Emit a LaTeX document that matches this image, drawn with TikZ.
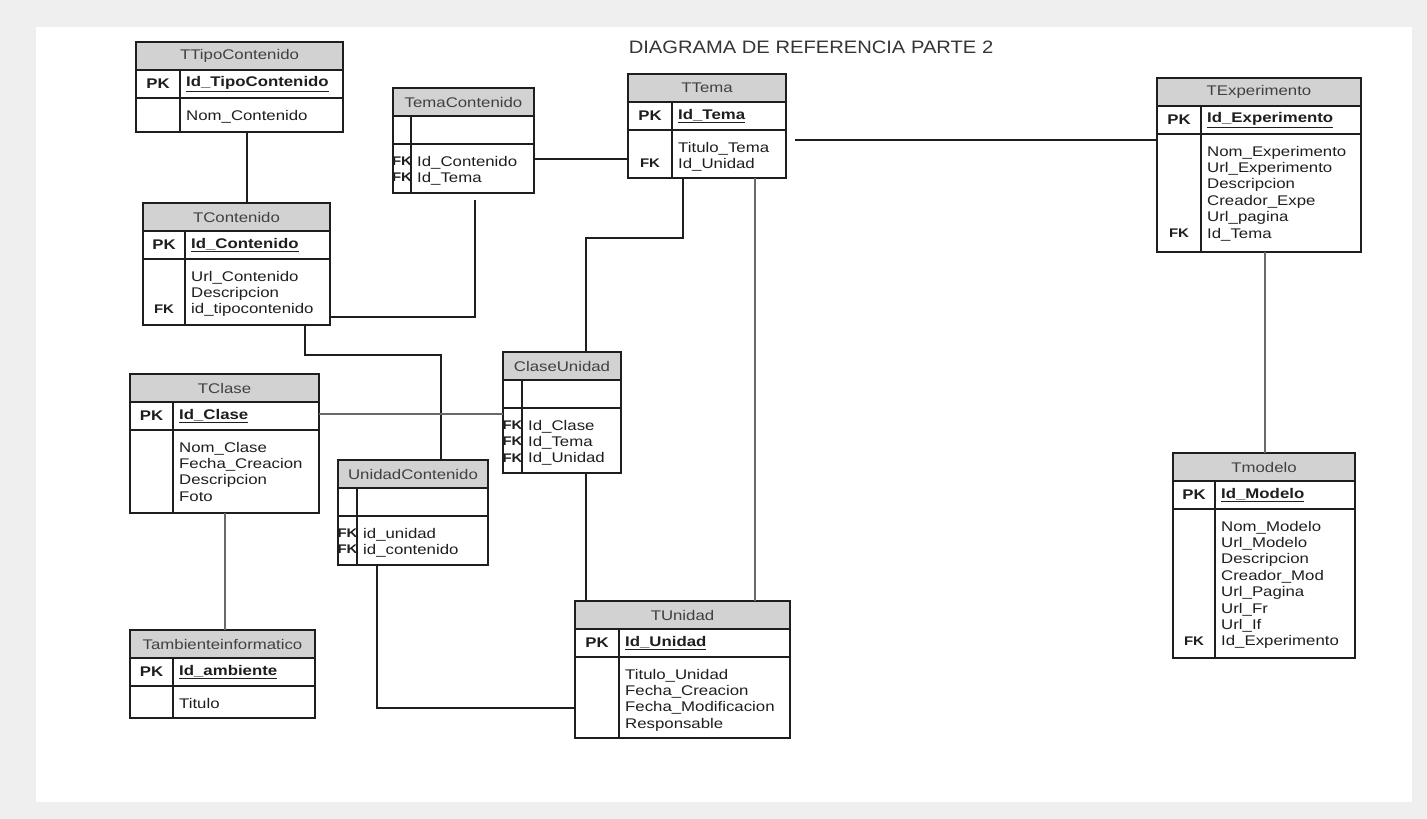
\documentclass[tikz,border=0pt]{standalone}
\usepackage{fontspec}
\usepackage{xcolor}
\usepackage{tikz}
\usetikzlibrary{positioning,fit}

\newfontfamily\tblfont[FakeStretch=1.2]{Liberation Sans}
\newfontfamily\titlefont[FakeStretch=1.12]{Liberation Sans}

\definecolor{hdrgray}{RGB}{210,210,210}
\definecolor{pagegray}{RGB}{239,239,239}
\definecolor{inkgray}{RGB}{30,30,30}
\definecolor{relgray}{RGB}{105,105,105}

% name, x, y, width, key column, body height, title, key, primary field
\newcommand{\ertable}[9]{%
  \node[tblhead, minimum width=#4pt, anchor=north west] (#1-h) at (#2,#3) {#7};
  \node[tblrow, minimum width=#4pt, minimum height=28pt, below=0pt of #1-h] (#1-p) {};
  \node[tblrow, minimum width=#4pt, minimum height=#6pt, below=0pt of #1-p] (#1-b) {};
  \draw[tblline] ([xshift=#5pt]#1-p.north west) -- ([xshift=#5pt]#1-b.south west);
  \node[pkkey] at ([xshift=#5pt/2]#1-p.west) {#8};
  \node[pkfield] at ([xshift=#5pt+6pt]#1-p.west) {\underline{#9}};
  \node[fit=(#1-h)(#1-b), inner sep=0pt, outer sep=0pt] (#1) {};
}
\newcommand{\erfields}[3]{%
  \node[fieldtxt] at ([xshift=#2pt+6pt, yshift=-11.8pt]#1-b.north west) {#3};
}
\newcommand{\erfk}[3]{%
  \node[fkkey] at ([xshift=#2pt/2, yshift=-17pt-(#3-1)*16.4pt]#1-b.north west) {FK};
}

\begin{document}
\begin{tikzpicture}[
  x=1pt, y=-1pt,
  tblline/.style={draw=inkgray, line width=1.6pt},
  tblhead/.style={tblline, fill=hdrgray, minimum height=28pt, inner sep=0pt, outer sep=0pt, font=\tblfont\fontsize{14}{16}\selectfont, text=inkgray!85},
  tblrow/.style={tblline, fill=white, inner sep=0pt, outer sep=0pt},
  pkkey/.style={inner sep=0pt, font=\tblfont\bfseries\fontsize{14}{16}\selectfont, text=inkgray},
  pkfield/.style={anchor=west, inner sep=0pt, font=\tblfont\bfseries\fontsize{14}{16}\selectfont, text=inkgray},
  fieldtxt/.style={anchor=north west, align=left, inner sep=0pt, font=\tblfont\fontsize{14}{16.4}\selectfont, text=inkgray},
  fkkey/.style={inner sep=0pt, font=\tblfont\bfseries\fontsize{12.5}{14}\selectfont, text=inkgray},
  rel/.style={draw=inkgray, line width=1.8pt},
  relg/.style={draw=relgray, line width=2pt}
]
\fill[pagegray] (0,0) rectangle (1427,819);
\fill[white] (36,27) rectangle (1412,802);
\useasboundingbox (0,0) rectangle (1427,819);

\node[font=\titlefont\fontsize{18}{20}\selectfont, text=inkgray!90] (title) at (811,47.5) {DIAGRAMA DE REFERENCIA PARTE 2};

% tables
\ertable{tipo}{136}{42}{207}{44}{34}{TTipoContenido}{PK}{Id\_TipoContenido}
\erfields{tipo}{44}{Nom\_Contenido}

\ertable{cont}{143}{203}{187}{42}{66}{TContenido}{PK}{Id\_Contenido}
\erfields{cont}{42}{Url\_Contenido\\Descripcion\\id\_tipocontenido}
\erfk{cont}{42}{3}

\ertable{temacont}{393}{88}{141}{18}{49}{TemaContenido}{}{}
\erfields{temacont}{18}{Id\_Contenido\\Id\_Tema}
\erfk{temacont}{18}{1}
\erfk{temacont}{18}{2}

\ertable{tema}{628}{74}{158}{44}{48}{TTema}{PK}{Id\_Tema}
\erfields{tema}{44}{Titulo\_Tema\\Id\_Unidad}
\erfk{tema}{44}{2}

\ertable{exper}{1157}{78}{204}{44}{118}{TExperimento}{PK}{Id\_Experimento}
\erfields{exper}{44}{Nom\_Experimento\\Url\_Experimento\\Descripcion\\Creador\_Expe\\Url\_pagina\\Id\_Tema}
\erfk{exper}{44}{6}

\ertable{clase}{130}{374}{189}{43}{83}{TClase}{PK}{Id\_Clase}
\erfields{clase}{43}{Nom\_Clase\\Fecha\_Creacion\\Descripcion\\Foto}

\ertable{unicont}{338}{460}{150}{19}{49}{UnidadContenido}{}{}
\erfields{unicont}{19}{id\_unidad\\id\_contenido}
\erfk{unicont}{19}{1}
\erfk{unicont}{19}{2}

\ertable{claseuni}{503}{352}{118}{19}{65}{ClaseUnidad}{}{}
\erfields{claseuni}{19}{Id\_Clase\\Id\_Tema\\Id\_Unidad}
\erfk{claseuni}{19}{1}
\erfk{claseuni}{19}{2}
\erfk{claseuni}{19}{3}

\ertable{unidad}{575}{601}{215}{44}{81}{TUnidad}{PK}{Id\_Unidad}
\erfields{unidad}{44}{Titulo\_Unidad\\Fecha\_Creacion\\Fecha\_Modificacion\\Responsable}

\ertable{ambiente}{130}{630}{185}{43}{32}{Tambienteinformatico}{PK}{Id\_ambiente}
\erfields{ambiente}{43}{Titulo}

\ertable{modelo}{1173}{453}{182}{42}{149}{Tmodelo}{PK}{Id\_Modelo}
\erfields{modelo}{42}{Nom\_Modelo\\Url\_Modelo\\Descripcion\\Creador\_Mod\\Url\_Pagina\\Url\_Fr\\Url\_If\\Id\_Experimento}
\erfk{modelo}{42}{8}

% relations
\draw[rel] ([xshift=7.5pt]tipo.south) -- ([xshift=7.5pt]tipo.south |- cont.north);
\draw[rel, shorten >=7pt] ([yshift=8pt]cont.south east) -| ([xshift=11.5pt]temacont.south);
\draw[rel] ([yshift=-18.5pt]temacont.east) -- ([yshift=-18.5pt]temacont.east -| tema.west);
\draw[rel, shorten <=9pt] ([yshift=-14pt]tema.east) -- ([yshift=-14pt]tema.east -| exper.west);
\draw[relg] ([xshift=6pt]exper.south) -- ([xshift=6pt]exper.south |- modelo.north);
\draw[rel] ([xshift=-24pt]tema.south) -- ++(0,60) -| ([xshift=24pt]claseuni.north);
\draw[relg] ([xshift=48pt]tema.south) -- ([xshift=48pt]tema.south |- unidad.north);
\draw[rel] ([xshift=68.5pt]cont.south) -- ++(0,30) -| ([xshift=28pt]unicont.north);
\draw[relg] ([yshift=29.5pt]clase.east) -- ([yshift=29.5pt]clase.east -| claseuni.west);
\draw[rel] ([xshift=24pt]claseuni.south) -- ([xshift=24pt]claseuni.south |- unidad.north);
\draw[relg] (clase.south) -- (clase.south |- ambiente.north);
\draw[rel] ([xshift=-36pt]unicont.south) |- ([yshift=-38.5pt]unidad.west);
\end{tikzpicture}
\end{document}
